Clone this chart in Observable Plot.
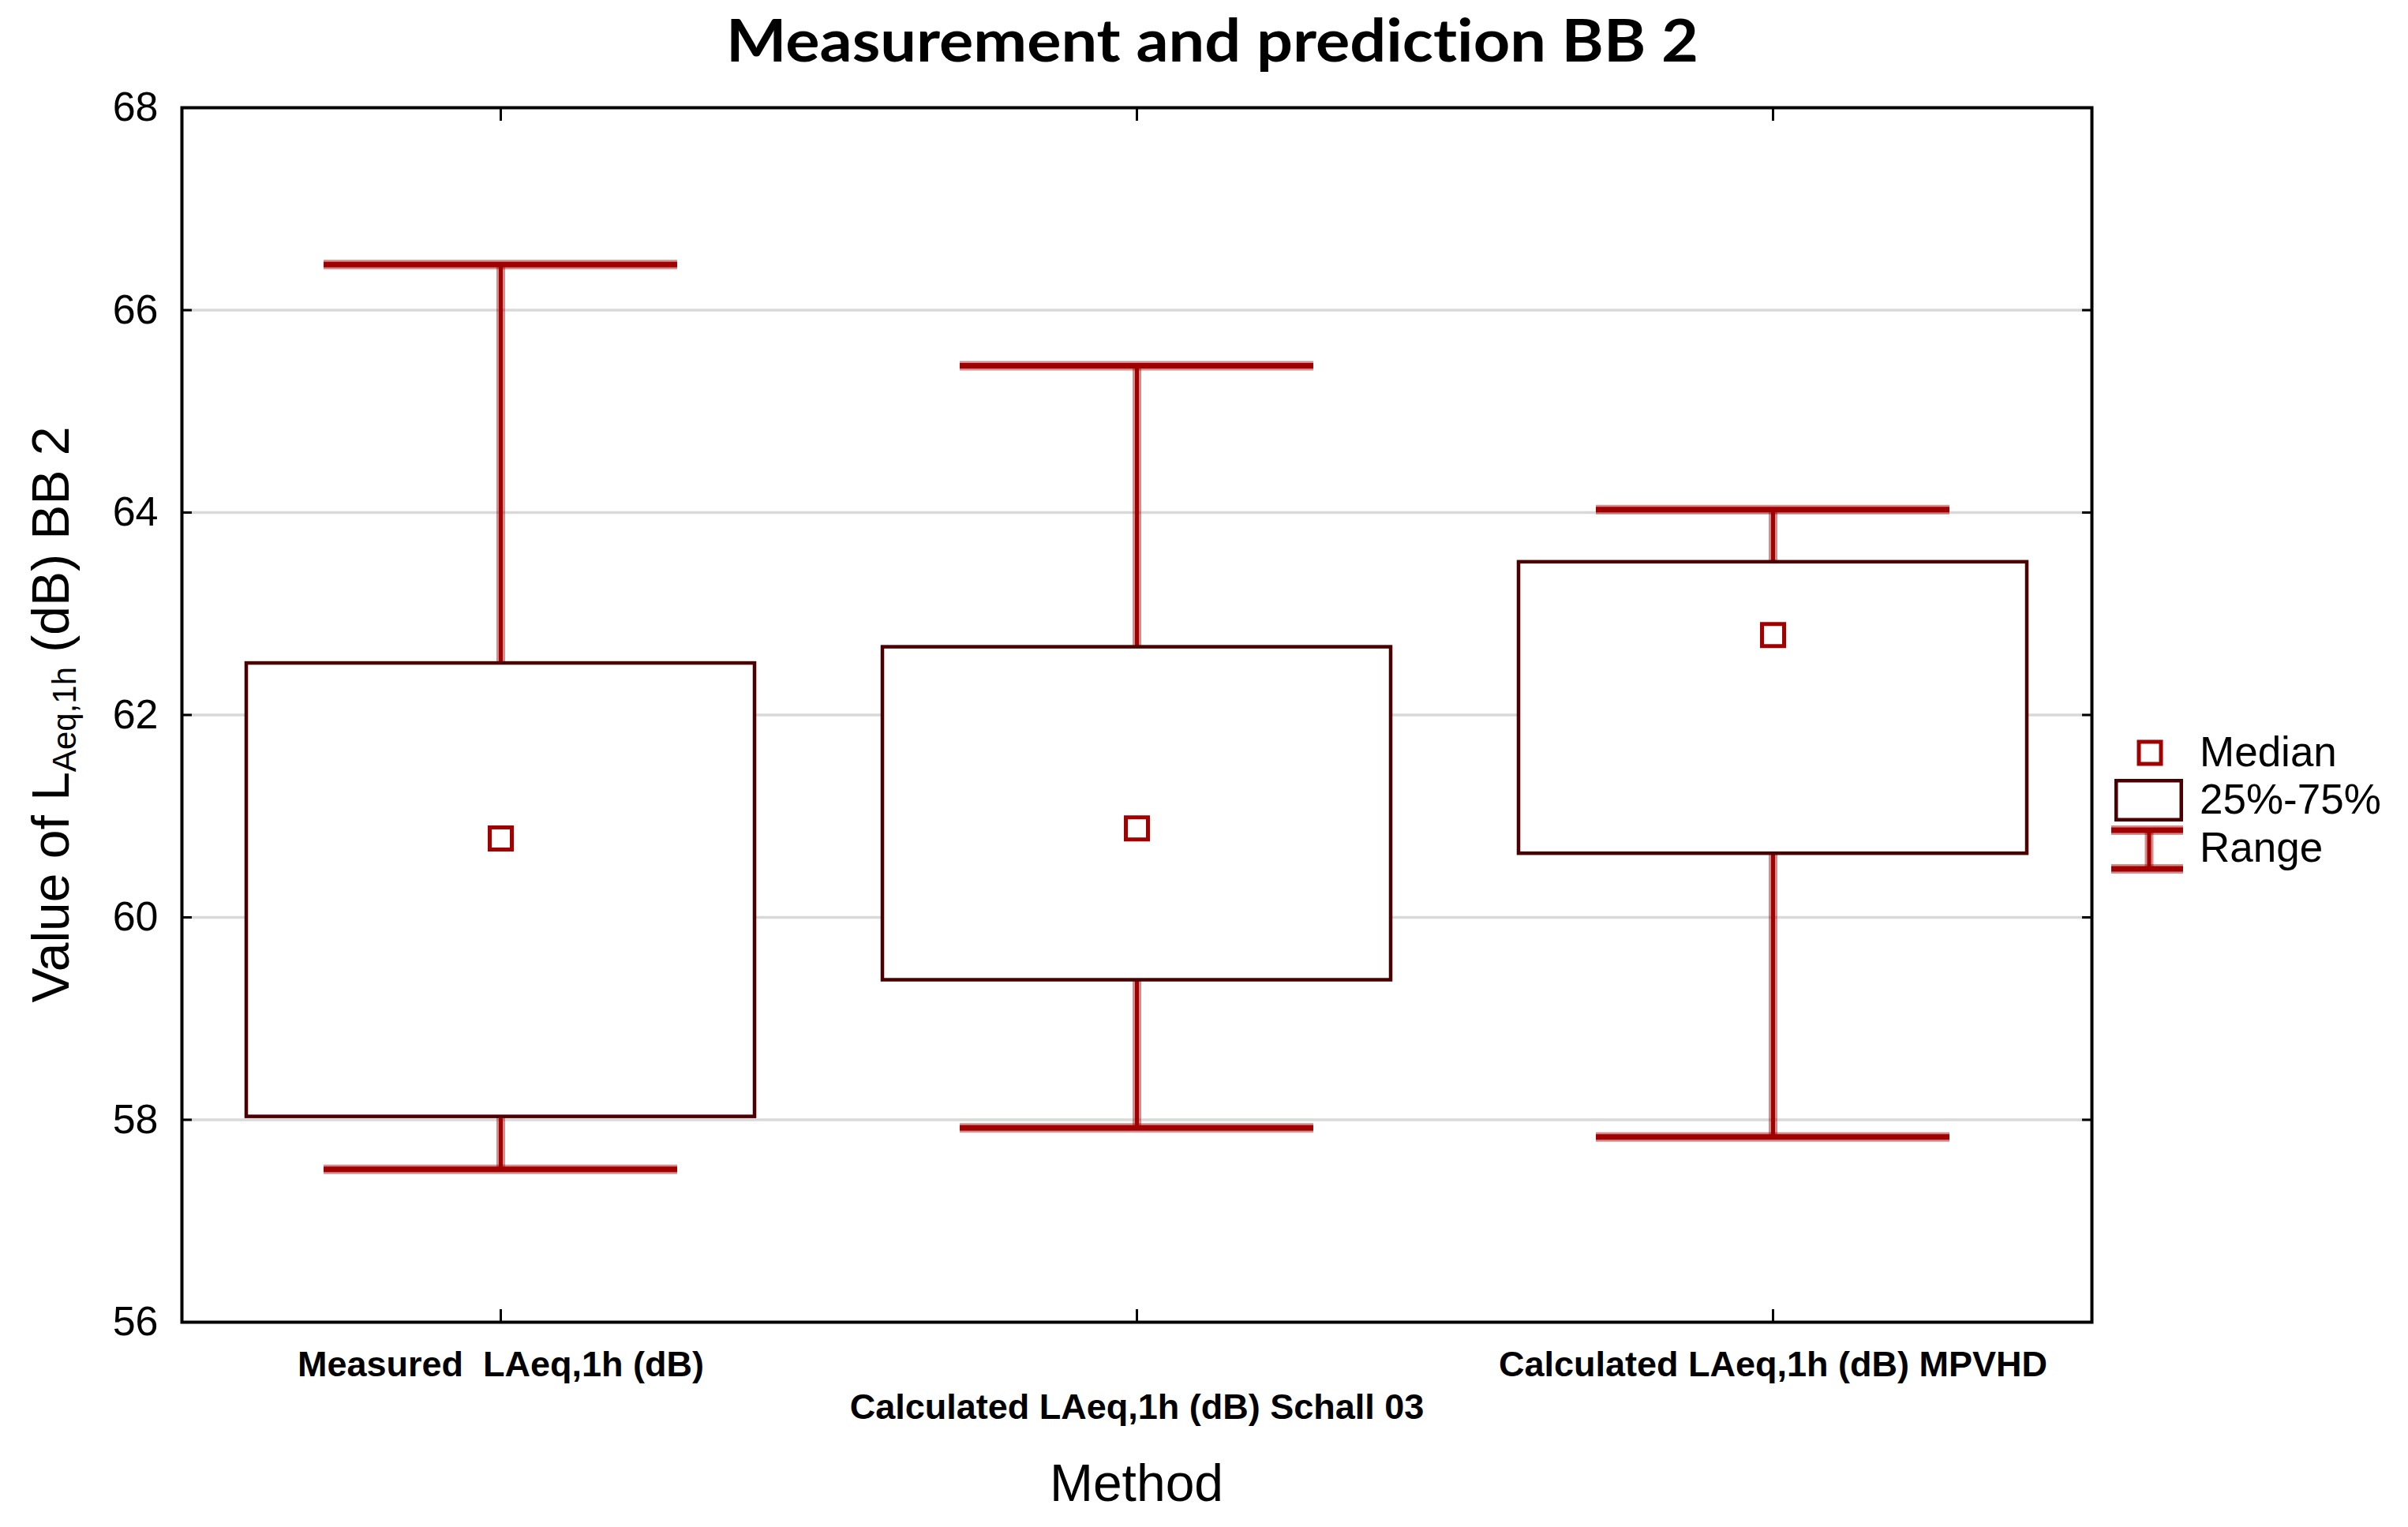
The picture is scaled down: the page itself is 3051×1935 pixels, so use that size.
<!DOCTYPE html>
<html>
<head>
<meta charset="utf-8">
<script src="https://cdn.jsdelivr.net/npm/d3@7"></script>
<script src="https://cdn.jsdelivr.net/npm/@observablehq/plot@0.6"></script>
<style>
  html, body { margin: 0; padding: 0; background: #fff; }
  #wrap { position: relative; width: 3051px; height: 1935px; background: #fff; overflow: hidden; }
  #title { position: absolute; left: 0; top: 0; }
  #title text { font-variant-ligatures: none; font-feature-settings: "liga" 0, "clig" 0; }
  #chart { position: absolute; left: 0; top: 110px; }
  #chart svg text { white-space: pre; }
  #legend { position: absolute; left: 2660px; top: 920px; }
</style>
</head>
<body>
<div id="wrap">
  <svg id="title" width="3051" height="110">
    <text x="1536" y="78" text-anchor="middle" font-family="Lato, 'Noto Sans', sans-serif" font-weight="700" font-size="74" textLength="1232" lengthAdjust="spacingAndGlyphs" fill="#000">Measurement and prediction BB 2</text>
  </svg>
  <div id="chart"></div>
  <svg id="legend" width="391" height="200" font-family="'Liberation Sans', Arial, sans-serif">
    <rect x="50" y="20" width="28" height="28" fill="none" stroke="#a00000" stroke-width="5"></rect>
    <rect x="21.25" y="69.25" width="82.5" height="49.5" fill="#fff" stroke="#4a0000" stroke-width="4.5"></rect>
    <g stroke="#a00000">
      <line x1="15" x2="106" y1="132" y2="132" stroke-width="12" stroke-opacity="0.45"></line>
      <line x1="15" x2="106" y1="181" y2="181" stroke-width="12" stroke-opacity="0.45"></line>
      <line x1="63" x2="63" y1="132" y2="181" stroke-width="11" stroke-opacity="0.45"></line>
      <line x1="15" x2="106" y1="132" y2="132" stroke-width="7"></line>
      <line x1="15" x2="106" y1="181" y2="181" stroke-width="7"></line>
      <line x1="63" x2="63" y1="132" y2="181" stroke-width="5"></line>
    </g>
    <text x="127" y="51" font-size="53" fill="#000">Median</text>
    <text x="127" y="111" font-size="53" fill="#000">25%-75%</text>
    <text x="127" y="172" font-size="53" fill="#000">Range</text>
  </svg>
</div>
<script>
const categories = ["Measured  LAeq,1h (dB)", "Calculated LAeq,1h (dB) Schall 03", "Calculated LAeq,1h (dB) MPVHD"];
const minValues = [57.51, 57.92, 57.83];
const q1Values = [58.03, 59.38, 60.63];
const medianValues = [60.78, 60.88, 62.79];
const q3Values = [62.51, 62.67, 63.51];
const maxValues = [66.45, 65.45, 64.03];
const yTicks = [56, 58, 60, 62, 64, 66, 68];

const data = categories.map((c, i) => ({
  method: c, min: minValues[i], q1: q1Values[i], median: medianValues[i], q3: q3Values[i], max: maxValues[i]
}));

const red = "#a00000";
const plot = Plot.plot({
  width: 3051,
  height: 1825,
  marginLeft: 230,
  marginRight: 401,
  marginTop: 26,
  marginBottom: 260,
  style: { fontFamily: "'Liberation Sans', Arial, sans-serif", background: "#fff", color: "#000", overflow: "visible" },
  x: { type: "band", domain: categories, padding: 0, axis: null },
  y: { domain: [56, 68], axis: null },
  marks: [
    Plot.gridY(yTicks.slice(1, -1), { stroke: "#d9d9d9", strokeOpacity: 1, strokeWidth: 3.5 }),
    Plot.ruleX(data, { x: "method", y1: "min", y2: "max", stroke: red, strokeOpacity: 0.45, strokeWidth: 11 }),
    Plot.ruleX(data, { x: "method", y1: "min", y2: "max", stroke: red, strokeWidth: 5 }),
    Plot.barY(data, { x: "method", y1: "q1", y2: "q3", insetLeft: 81, insetRight: 81, fill: "white", stroke: "#4a0000", strokeWidth: 4.5 }),
    Plot.tickY(data, { x: "method", y: "min", insetLeft: 179, insetRight: 179, stroke: red, strokeOpacity: 0.45, strokeWidth: 12 }),
    Plot.tickY(data, { x: "method", y: "max", insetLeft: 179, insetRight: 179, stroke: red, strokeOpacity: 0.45, strokeWidth: 12 }),
    Plot.tickY(data, { x: "method", y: "min", insetLeft: 179, insetRight: 179, stroke: red, strokeWidth: 7 }),
    Plot.tickY(data, { x: "method", y: "max", insetLeft: 179, insetRight: 179, stroke: red, strokeWidth: 7 }),
    Plot.dot(data, { x: "method", y: "median", symbol: "square", r: 15.8, stroke: red, strokeWidth: 5, fill: "none" }),
    Plot.frame({ stroke: "#000", strokeWidth: 4 }),
    Plot.axisY(yTicks, { anchor: "left", tickSize: 0, tickPadding: 30, fontSize: 52, tickFormat: d3.format("d"), label: null }),
    Plot.axisY(yTicks, { anchor: "left", tickSize: -13, fill: "none", strokeWidth: 3, label: null }),
    Plot.axisY(yTicks, { anchor: "right", tickSize: -13, fill: "none", strokeWidth: 3, label: null }),
    Plot.axisX(categories, { anchor: "top", tickSize: -16, fill: "none", strokeWidth: 3, label: null }),
    Plot.axisX(categories, { anchor: "bottom", tickSize: -16, fill: "none", strokeWidth: 3, label: null }),
    Plot.axisX([categories[0], categories[2]], { anchor: "bottom", tickSize: 0, tickPadding: 37, fontSize: 45, fontWeight: "bold", label: null }),
    Plot.axisX([categories[1]], { anchor: "bottom", tickSize: 0, tickPadding: 91, fontSize: 45, fontWeight: "bold", label: null })
  ]
});

document.getElementById("chart").appendChild(plot);

const svg = d3.select(plot);
const yMid = (plot.scale("y").apply(56) + plot.scale("y").apply(68)) / 2;
const xMid = (230 + (3051 - 401)) / 2;

// Y axis title with subscript
const yt = svg.append("text")
  .attr("transform", `translate(87,${yMid}) rotate(-90)`)
  .attr("text-anchor", "middle")
  .attr("font-size", 66)
  .attr("fill", "#000");
yt.append("tspan").text("Value of L");
yt.append("tspan").attr("font-size", 42).attr("dy", 9).text("Aeq,1h");
yt.append("tspan").attr("dy", -9).text(" (dB) BB 2");

// X axis title
svg.append("text")
  .attr("x", xMid)
  .attr("y", 1792)
  .attr("text-anchor", "middle")
  .attr("font-size", 66)
  .attr("fill", "#000")
  .text("Method");
</script>
</body>
</html>
